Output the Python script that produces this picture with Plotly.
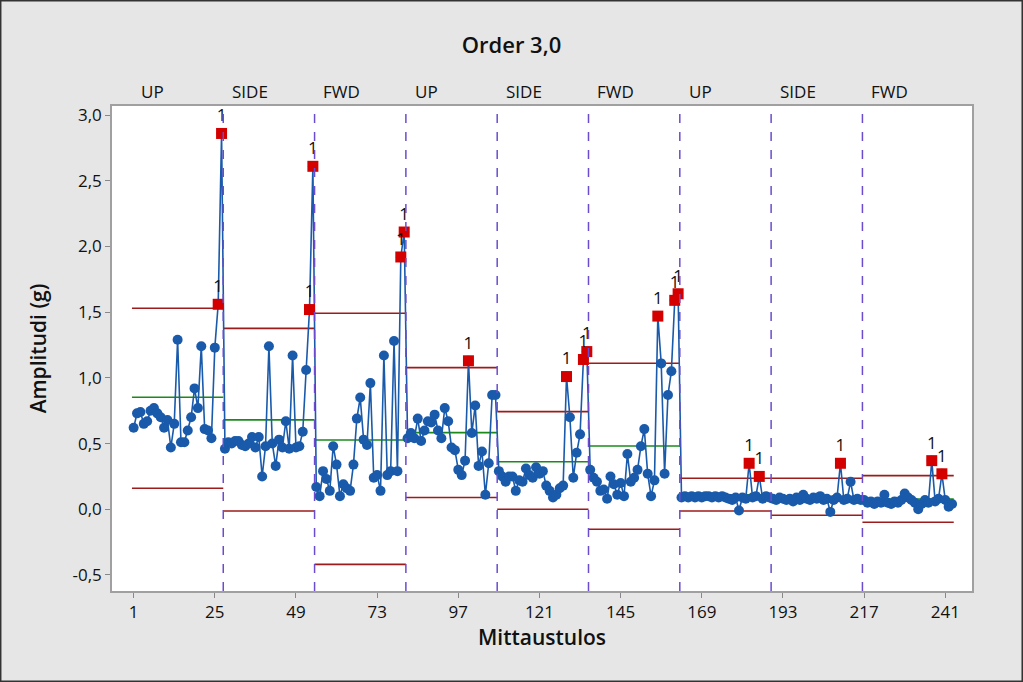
import plotly.graph_objects as go

# ---------------- data ----------------
stages = ["UP", "SIDE", "FWD", "UP", "SIDE", "FWD", "UP", "SIDE", "FWD"]
stage_size = 27

amp_up1 = [0.62, 0.73, 0.74, 0.65, 0.67, 0.75, 0.77, 0.73, 0.70, 0.62,
           0.68, 0.47, 0.65, 1.29, 0.51, 0.51, 0.60, 0.70, 0.92, 0.77,
           1.24, 0.61, 0.60, 0.54, 1.23, 1.56, 2.86]
amp_side1 = [0.46, 0.51, 0.50, 0.52, 0.52, 0.49, 0.48, 0.50, 0.55, 0.47,
             0.55, 0.25, 0.48, 1.24, 0.50, 0.33, 0.53, 0.47, 0.67, 0.46,
             1.17, 0.47, 0.48, 0.59, 1.06, 1.52, 2.61]
amp_fwd1 = [0.17, 0.10, 0.29, 0.23, 0.14, 0.48, 0.34, 0.10, 0.19, 0.16,
            0.14, 0.34, 0.69, 0.85, 0.53, 0.49, 0.96, 0.24, 0.26, 0.14,
            1.17, 0.26, 0.29, 1.28, 0.29, 1.92, 2.11]
amp_up2 = [0.54, 0.58, 0.54, 0.69, 0.52, 0.60, 0.67, 0.66, 0.72, 0.60,
           0.54, 0.77, 0.67, 0.47, 0.45, 0.30, 0.26, 0.37, 1.13, 0.58,
           0.79, 0.33, 0.44, 0.11, 0.35, 0.87, 0.87]
amp_side2 = [0.29, 0.25, 0.21, 0.25, 0.25, 0.14, 0.22, 0.21, 0.31, 0.26,
             0.24, 0.32, 0.27, 0.29, 0.18, 0.14, 0.09, 0.11, 0.16, 0.18,
             1.01, 0.70, 0.24, 0.43, 0.57, 1.14, 1.20]
amp_fwd2 = [0.30, 0.24, 0.21, 0.14, 0.15, 0.08, 0.25, 0.19, 0.11, 0.20,
            0.10, 0.42, 0.21, 0.24, 0.30, 0.48, 0.61, 0.27, 0.10, 0.22,
            1.47, 1.11, 0.27, 0.87, 1.05, 1.59, 1.64]
amp_up3 = [0.09, 0.10, 0.09, 0.10, 0.09, 0.10, 0.09, 0.10, 0.10, 0.09,
           0.10, 0.09, 0.10, 0.09, 0.08, 0.07, 0.09, -0.01, 0.09, 0.08,
           0.35, 0.09, 0.10, 0.25, 0.08, 0.10, 0.09]
amp_side3 = [0.08, 0.07, 0.09, 0.08, 0.07, 0.08, 0.06, 0.09, 0.07, 0.11,
             0.08, 0.07, 0.09, 0.08, 0.10, 0.07, 0.08, -0.02, 0.07, 0.09,
             0.35, 0.07, 0.08, 0.21, 0.07, 0.08, 0.07]
amp_fwd3 = [0.07, 0.05, 0.06, 0.04, 0.06, 0.05, 0.11, 0.05, 0.04, 0.06,
            0.05, 0.07, 0.12, 0.09, 0.07, 0.05, 0.00, 0.04, 0.07, 0.05,
            0.37, 0.06, 0.08, 0.27, 0.07, 0.02, 0.04]

ucl = [1.530, 1.377, 1.492, 1.078, 0.743, 1.111, 0.236, 0.236, 0.256]
cl = [0.852, 0.680, 0.527, 0.583, 0.362, 0.482, 0.111, 0.095, 0.078]
lcl = [0.160, -0.013, -0.419, 0.089, 0.000, -0.152, -0.013, -0.046, -0.099]

x_tick_vals = [1, 25, 49, 73, 97, 121, 145, 169, 193, 217, 241]
y_tick_vals = [-0.5, 0.0, 0.5, 1.0, 1.5, 2.0, 2.5, 3.0]
y_tick_text = ["-0,5", "0,0", "0,5", "1,0", "1,5", "2,0", "2,5", "3,0"]

# ---------------- build ----------------
amp = (amp_up1 + amp_side1 + amp_fwd1 + amp_up2 + amp_side2 + amp_fwd2
       + amp_up3 + amp_side3 + amp_fwd3)
obs = list(range(1, len(amp) + 1))

FONT = "Open Sans, Noto Sans, Arial, sans-serif"
BLUE = "#1a5aab"
RED = "#d40000"
LIMIT = "#9e1b1b"
GREEN = "#1b8a1b"
PURPLE = "#6b4ccf"

fig = go.Figure()

# control limit lines per stage
ux, uy, cx, cy, lx, ly = [], [], [], [], [], []
for k in range(len(stages)):
    x0 = k * stage_size + 0.5
    x1 = (k + 1) * stage_size + 0.5
    ux += [x0, x1, None]; uy += [ucl[k], ucl[k], None]
    cx += [x0, x1, None]; cy += [cl[k], cl[k], None]
    lx += [x0, x1, None]; ly += [lcl[k], lcl[k], None]

fig.add_trace(go.Scatter(x=ux, y=uy, mode="lines", line=dict(color=LIMIT, width=1.6),
                         hoverinfo="skip", showlegend=False))
fig.add_trace(go.Scatter(x=lx, y=ly, mode="lines", line=dict(color=LIMIT, width=1.6),
                         hoverinfo="skip", showlegend=False))
fig.add_trace(go.Scatter(x=cx, y=cy, mode="lines", line=dict(color=GREEN, width=1.6),
                         hoverinfo="skip", showlegend=False))

# data line + markers
fig.add_trace(go.Scatter(x=obs, y=amp, mode="lines+markers",
                         line=dict(color=BLUE, width=1.6),
                         marker=dict(symbol="circle", size=10, color=BLUE),
                         showlegend=False))

# flagged points (test 1: beyond limits)
fx, fy = [], []
for i, v in enumerate(amp):
    k = i // stage_size
    if v > ucl[k] or v < lcl[k]:
        fx.append(obs[i]); fy.append(v)
fig.add_trace(go.Scatter(x=fx, y=fy, mode="markers+text",
                         marker=dict(symbol="square", size=11, color=RED),
                         text=["1"] * len(fx), textposition="top center",
                         textfont=dict(size=17, color="#111111", family=FONT),
                         showlegend=False))

# stage separators and labels
shapes = []
annotations = []
for k in range(len(stages)):
    if k > 0:
        xb = k * stage_size + 0.5
        shapes.append(dict(type="line", xref="x", yref="paper", x0=xb, x1=xb, y0=0, y1=1,
                           line=dict(color=PURPLE, width=1.5, dash="dash")))
    annotations.append(dict(x=k * stage_size + 0.5 + 2.0, y=1.030, xref="x", yref="paper",
                            text=stages[k], showarrow=False, xanchor="left", yanchor="middle",
                            font=dict(size=17, color="#111111", family=FONT)))

# outer frame
shapes.append(dict(type="rect", xref="paper", yref="paper",
                   x0=-0.1297, x1=1.0587, y0=-0.1866, y1=1.2176,
                   line=dict(color="#333333", width=2), fillcolor="rgba(0,0,0,0)",
                   layer="below"))

fig.update_layout(
    width=1023, height=682,
    margin=dict(l=112, r=51, t=106, b=91),
    paper_bgcolor="#e6e6e6",
    plot_bgcolor="white",
    font=dict(family=FONT, size=17, color="#111111"),
    title=dict(text="Order 3,0", x=0.5, xanchor="center", y=0.934, yanchor="middle",
               font=dict(size=22, color="#111111", family=FONT, weight=600)),
    shapes=shapes,
    annotations=annotations,
    showlegend=False,
)
fig.update_xaxes(range=[-5.4, 248.9], tickvals=x_tick_vals, ticks="outside", ticklen=5,
                 tickcolor="#888888", showgrid=False, zeroline=False,
                 showline=True, linecolor="#a0a0a0", linewidth=1.5, mirror=True,
                 tickfont=dict(size=17),
                 title=dict(text="Mittaustulos", font=dict(size=21, weight=600), standoff=4))
fig.update_yaxes(range=[-0.622, 3.069], tickvals=y_tick_vals, ticktext=y_tick_text,
                 ticks="outside", ticklen=5, tickcolor="#888888",
                 showgrid=False, zeroline=False,
                 showline=True, linecolor="#a0a0a0", linewidth=1.5, mirror=True,
                 tickfont=dict(size=17),
                 title=dict(text="Amplitudi (g)", font=dict(size=21, weight=600), standoff=20))

fig.write_html("out.html", config={"displayModeBar": False},
               post_script="document.body.style.margin='0';document.body.style.overflow='hidden';")
